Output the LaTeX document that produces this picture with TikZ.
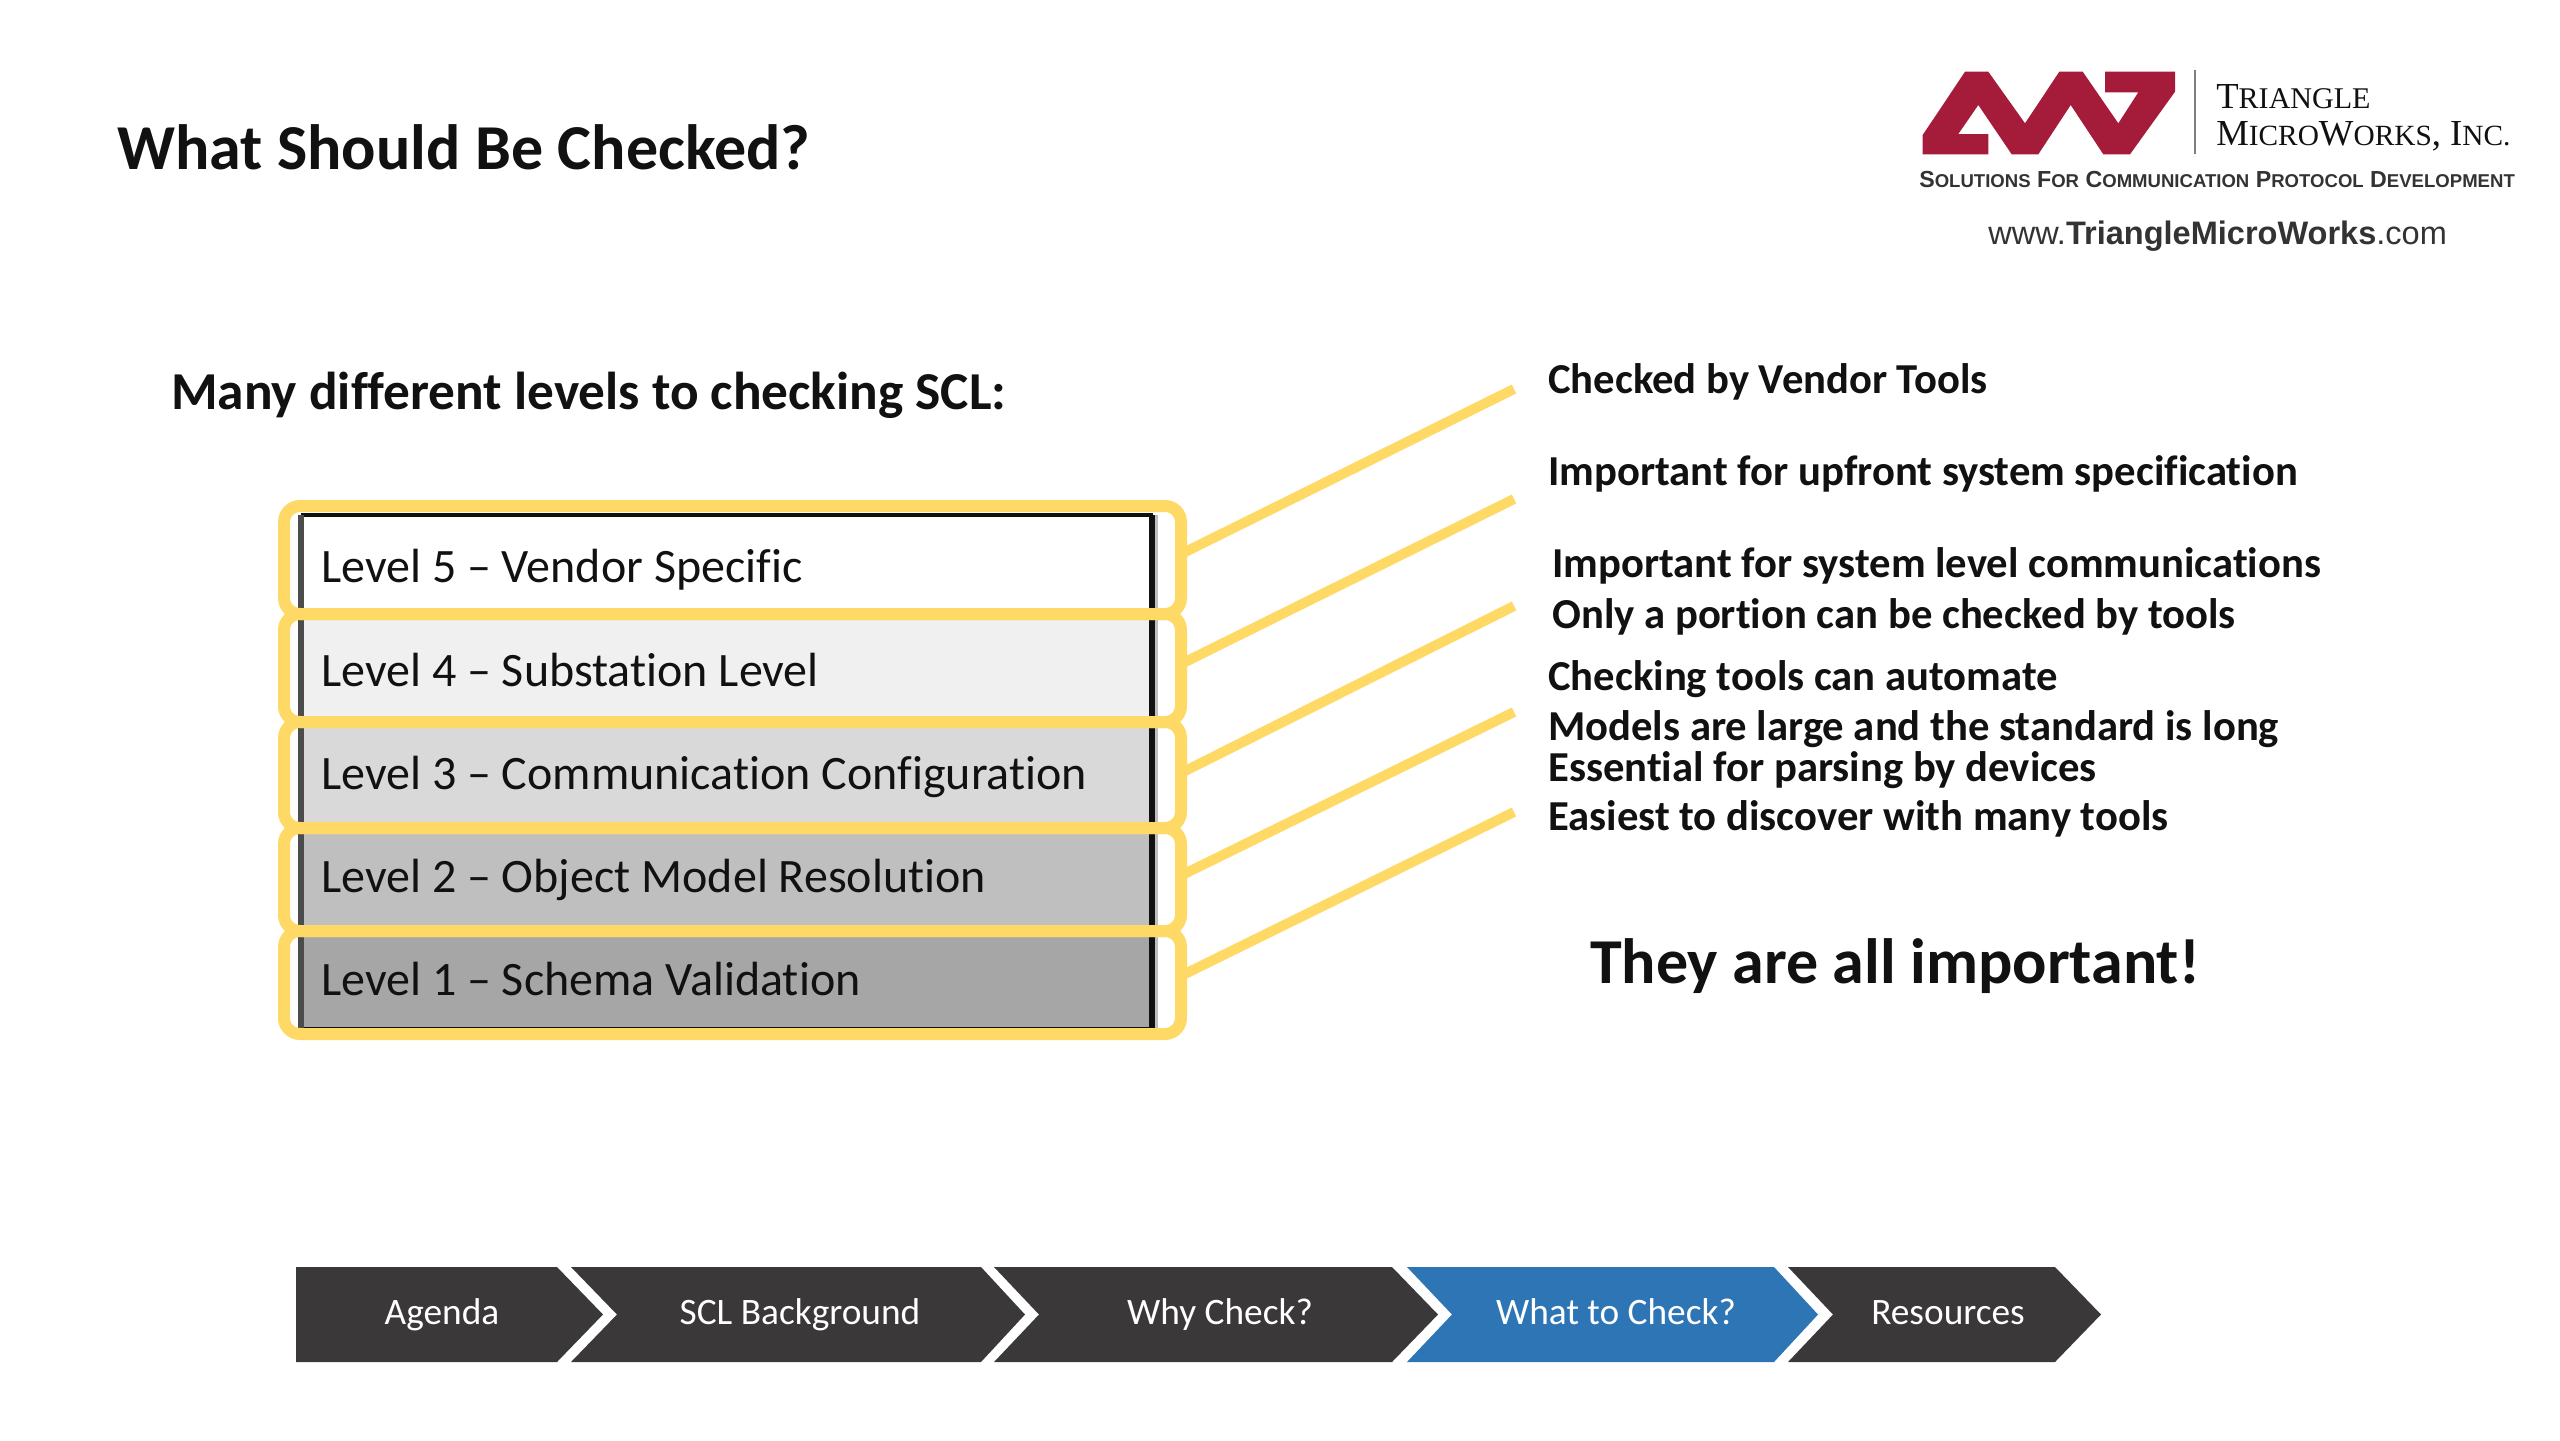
\documentclass[tikz,border=0pt]{standalone}
\usepackage{fontspec}
\setmainfont[Ligatures=NoCommon]{Carlito}
\newfontfamily\logoserif{Liberation Serif}
\newfontfamily\logosans{Liberation Sans}
\definecolor{hl}{HTML}{FFD966}
\definecolor{darkchev}{HTML}{3A3839}
\definecolor{bluechev}{HTML}{2E75B6}
\definecolor{ink}{HTML}{111111}
\definecolor{logored}{HTML}{A51C3A}
\tikzset{
  x=0.75pt,y=-0.75pt,
  levelbox/.style={minimum width=846*0.75pt,inner sep=0pt,outer sep=0pt,anchor=north west},
  leveltext/.style={anchor=west,inner sep=0pt,text height=25pt,text depth=7pt,font=\fontsize{36pt}{38pt}\selectfont,text=ink},
  frame/.style={draw=hl,line width=9pt,rounded corners=12pt,minimum width=897*0.75pt,inner sep=0pt,outer sep=0pt,anchor=north west},
  link/.style={draw=hl,line width=7.5pt},
  note/.style={anchor=west,inner sep=0pt,text height=21pt,text depth=6pt,font=\fontsize{32pt}{34pt}\selectfont\bfseries,text=ink},
  chevlabel/.style={inner sep=0pt,text height=19pt,text depth=5pt,text=white,font=\fontsize{28pt}{30pt}\selectfont},
}
\newcommand{\chevron}[5]{\fill[#1] (#2,1267)--(#4,1267)--(#5,1314.5)--(#4,1362)--(#2,1362)--(#3,1314.5)--cycle;}
\begin{document}
\begin{tikzpicture}
\useasboundingbox (0,0) rectangle (2560,1440);
\fill[white] (0,0) rectangle (2560,1440);
\node[anchor=west,inner sep=0pt,font=\fontsize{48pt}{50pt}\selectfont\bfseries,text=ink] (title) at (117,147.5) {What Should Be Checked?};
\node[anchor=west,inner sep=0pt,font=\fontsize{40pt}{42pt}\selectfont\bfseries,text=ink] (intro) at (171,395) {Many different levels to checking SCL:};
% level fills
\node[levelbox,fill=white,minimum height=99*0.75pt] (b5) at (304,515) {};
\node[levelbox,fill=black!6,minimum height=108*0.75pt] (b4) at (304,614) {};
\node[levelbox,fill=black!15,minimum height=106*0.75pt] (b3) at (304,722) {};
\node[levelbox,fill=black!25,minimum height=103*0.75pt] (b2) at (304,828) {};
\node[levelbox,fill=black!35,minimum height=98*0.75pt] (b1) at (304,931) {};
\draw[ink,line width=3pt] ([xshift=-2pt]b5.north west) -- ([xshift=2pt]b5.north east);
\draw[ink,line width=3pt] ([xshift=-2pt]b1.south west) -- ([xshift=2pt]b1.south east);
\draw[ink!75,line width=4.5pt] ([xshift=-2pt]b5.north west) -- ([xshift=-2pt]b1.south west);
\draw[black!25,line width=3pt] ([xshift=4.5pt]b5.north east) -- ([xshift=4.5pt]b1.south east);
\draw[ink,line width=4pt] ([xshift=1.5pt]b5.north east) -- ([xshift=1.5pt]b1.south east);
% text
\node[leveltext] (t5) at (321,570) {Level 5 – Vendor Specific};
\node[leveltext] (t4) at (321,674) {Level 4 – Substation Level};
\node[leveltext] (t3) at (321,777) {Level 3 – Communication Configuration};
\node[leveltext] (t2) at (321,880) {Level 2 – Object Model Resolution};
\node[leveltext] (t1) at (321,983) {Level 1 – Schema Validation};
% yellow frames
\node[frame,minimum height=108*0.75pt] (f5) at (284,506) {};
\node[frame,minimum height=108*0.75pt] (f4) at (284,614) {};
\node[frame,minimum height=106*0.75pt] (f3) at (284,722) {};
\node[frame,minimum height=103*0.75pt] (f2) at (284,828) {};
\node[frame,minimum height=103*0.75pt] (f1) at (284,931) {};
% notes
\node[note] (n1) at (1548,383) {Checked by Vendor Tools};
\node[note] (n2) at (1548,475) {Important for upfront system specification};
\node[note] (n3) at (1552,567) {Important for system level communications};
\node[note] (n4) at (1552,618) {Only a portion can be checked by tools};
\node[note] (n5) at (1548,680.5) {Checking tools can automate};
\node[note] (n6) at (1548,730.5) {Models are large and the standard is long};
\node[note] (n7) at (1548,771) {Essential for parsing by devices};
\node[note] (n8) at (1548,820.5) {Easiest to discover with many tools};
\node[anchor=west,inner sep=0pt,font=\fontsize{48pt}{50pt}\selectfont\bfseries,text=ink] (all) at (1590,966) {They are all important!};
% connectors
\coordinate (e5) at (1514,389);
\coordinate (e4) at (1514,499);
\coordinate (e3) at (1514,606);
\coordinate (e2) at (1514,712);
\coordinate (e1) at (1514,812);
\draw[link] ([yshift=4.5pt]f5.east) -- (e5);
\draw[link] ([yshift=3pt]f4.east) -- (e4);
\draw[link] ([yshift=1.5pt]f3.east) -- (e3);
\draw[link] ([yshift=3pt]f2.east) -- (e2);
\draw[link] ([yshift=5pt]f1.east) -- (e1);
% chevrons
\chevron{darkchev}{296}{296}{557}{603}
\chevron{darkchev}{571}{617}{981}{1025}
\chevron{darkchev}{994}{1039}{1392}{1438}
\chevron{bluechev}{1407}{1452}{1774}{1818}
\chevron{darkchev}{1788}{1833}{2055}{2101}
\node[chevlabel] (c1) at (442,1315.5) {Agenda};
\node[chevlabel] (c2) at (800,1315.5) {SCL Background};
\node[chevlabel] (c3) at (1220,1315.5) {Why Check?};
\node[chevlabel] (c4) at (1616,1315.5) {What to Check?};
\node[chevlabel] (c5) at (1948,1315.5) {Resources};
% logo
\fill[logored] (1922.7,154.3)--(1922.7,135)--(1965,71.7)--(1988.3,71.7)--(2025,123.3)--(2059.3,71.7)--(2082.7,71.7)--(2118.3,123.3)--(2138.3,92.3)--(2105,92.3)--(2105,71.7)--(2175,71.7)--(2175,91.7)--(2130,154.3)--(2103.3,154.3)--(2070.7,105)--(2038.3,154.3)--(2011.7,154.3)--(1978.3,105)--(1958.3,134)--(1988.3,134)--(1988.3,154.3)--cycle;
\draw[gray,line width=1.2pt] (2195,70) -- (2195,154);
\node[anchor=west,inner sep=0pt,font=\logoserif\fontsize{27.5pt}{29pt}\selectfont,text=ink] (lg1) at (2216,97) {T\scalebox{.82}{RIANGLE}};
\node[anchor=west,inner sep=0pt,font=\logoserif\fontsize{27.5pt}{29pt}\selectfont,text=ink] (lg2) at (2216,136) {M\scalebox{.8}{ICRO}W\scalebox{.8}{ORKS}, I\scalebox{.8}{NC.}};
\node[anchor=west,inner sep=0pt,font=\logosans\bfseries\fontsize{17.4pt}{19pt}\selectfont,text=black!80] (lg3) at (1919,180) {S\scalebox{.8}{OLUTIONS} F\scalebox{.8}{OR} C\scalebox{.8}{OMMUNICATION} P\scalebox{.8}{ROTOCOL} D\scalebox{.8}{EVELOPMENT}};
\node[anchor=west,inner sep=0pt,font=\logosans\fontsize{24.4pt}{26pt}\selectfont,text=black!80] (lg4) at (1988,236) {www.\textbf{TriangleMicroWorks}.com};
\end{tikzpicture}
\end{document}
